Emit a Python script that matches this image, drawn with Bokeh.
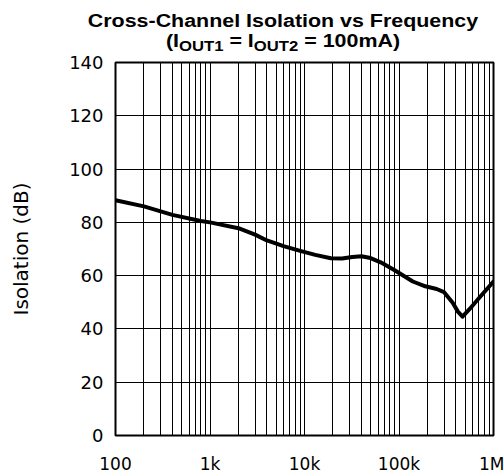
from bokeh.plotting import figure
from bokeh.models import FixedTicker, Range1d, Div
from bokeh.layouts import column
from bokeh.embed import file_html
from bokeh.resources import INLINE

# ---- data ----
freq_hz = [100, 200, 400, 800, 1000, 2000, 3000, 4000, 6000, 9000, 13000,
           19000, 25000, 32000, 40000, 50000, 64000, 90000, 140000, 190000,
           250000, 300000, 370000, 420000, 470000, 560000, 700000, 1000000]
isolation_db = [88.3, 86.0, 82.8, 80.5, 80.0, 77.8, 75.4, 73.2, 71.1, 69.3,
                67.8, 66.5, 66.4, 67.0, 67.3, 66.6, 65.0, 62.0, 57.8, 56.0,
                55.0, 53.8, 49.8, 46.5, 44.6, 47.5, 51.5, 57.8]

x_major_ticks = [100, 1000, 10000, 100000, 1000000]
x_tick_labels = ["100", "1k", "10k", "100k", "1M"]
y_ticks = [0, 20, 40, 60, 80, 100, 120, 140]

title_line1 = "Cross-Channel Isolation vs Frequency"
title_line2_parts = ["(I", "OUT1", " = I", "OUT2", " = 100mA)"]

# vertical grid at every 1..9 x decade
x_grid = [m * d for d in x_major_ticks[:-1] for m in range(1, 10)] + [x_major_ticks[-1]]

FONT = "DejaVu Sans"
TFONT = "Liberation Sans"

# ---- title block (HTML, so that subscripts are real text) ----
sub_style = "font-size:14px; line-height:0; vertical-align:-3.5px;"
pieces = []
for i, t in enumerate(title_line2_parts):
    if i % 2 == 1:
        pieces.append(f'<span style="{sub_style}">{t}</span>')
    else:
        pieces.append(t.replace(" ", "&nbsp;"))
line2 = "".join(pieces)
title_html = (
    f'<div style="font-family:\'{TFONT}\'; font-weight:bold; font-size:18px; '
    f'line-height:20.5px; color:black; text-align:center; padding-top:10.5px; '
    f'width:504px; position:relative; left:31px; margin:0; white-space:nowrap; '
    f'transform:scaleX(1.19); transform-origin:50% 0;">'
    f'{title_line1}<br>{line2}</div>'
)
title_div = Div(text=title_html, width=504, height=54, margin=(0, 0, -14, 0))

p = figure(width=504, height=436, x_axis_type="log",
           x_range=Range1d(100, 1000000), y_range=Range1d(0, 140),
           output_backend="svg", toolbar_location=None,
           min_border_left=115, min_border_right=11,
           min_border_top=22, min_border_bottom=38, margin=0)

p.background_fill_color = "white"
p.border_fill_color = None
p.outline_line_color = "black"
p.outline_line_width = 2

p.xaxis.ticker = FixedTicker(ticks=x_major_ticks, minor_ticks=[])
p.xaxis.major_label_overrides = {t: l for t, l in zip(x_major_ticks, x_tick_labels)}
p.yaxis.ticker = FixedTicker(ticks=y_ticks, minor_ticks=[])

for ax in (p.xaxis, p.yaxis):
    ax.axis_line_color = None
    ax.major_tick_line_color = None
    ax.minor_tick_line_color = None
    ax.major_tick_out = 0
    ax.major_tick_in = 0
    ax.major_label_text_font = FONT
    ax.major_label_text_color = "black"

p.yaxis.major_label_text_font_size = "18px"
p.xaxis.major_label_text_font_size = "17px"
p.xaxis.major_label_standoff = 18
p.yaxis.major_label_standoff = 12

p.yaxis.axis_label = "Isolation (dB)"
p.yaxis.axis_label_text_font = FONT
p.yaxis.axis_label_text_font_size = "20px"
p.yaxis.axis_label_text_font_style = "normal"
p.yaxis.axis_label_text_color = "black"
p.yaxis.axis_label_standoff = 33

p.xgrid.ticker = FixedTicker(ticks=x_grid, minor_ticks=[])
p.xgrid.grid_line_color = "black"
p.xgrid.grid_line_width = 1
p.ygrid.ticker = FixedTicker(ticks=y_ticks, minor_ticks=[])
p.ygrid.grid_line_color = "black"
p.ygrid.grid_line_width = 1

p.line(freq_hz, isolation_db, line_color="black", line_width=4,
       line_join="round", line_cap="round")

layout = column(title_div, p, spacing=0, margin=0)
open("out.html", "w").write(file_html(layout, INLINE))
